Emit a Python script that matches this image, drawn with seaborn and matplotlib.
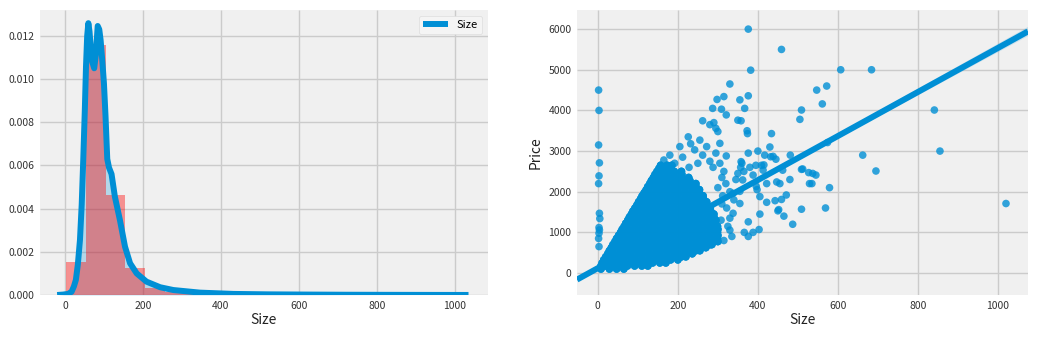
import numpy as np
import pandas as pd
import matplotlib
matplotlib.use("Agg")
import matplotlib.pyplot as plt
from matplotlib.ticker import FormatStrFormatter
import seaborn as sns

# ---------------- data ----------------
# left panel: histogram (20 bins) of Size, as densities
hist_edges = [2, 53, 104, 155, 206, 257, 308, 359, 410, 461, 512, 563, 614,
              665, 716, 767, 818, 869, 920, 971, 1022]
hist_density = [0.00154, 0.01158, 0.00463, 0.00126, 0.00032, 0.00012, 0.00006,
                0.00003, 0.00002, 0.000012, 0.000008, 0.000005, 0.000004,
                0.000003, 0.000002, 0.000001, 0.000001, 0.000002, 0.0, 0.000001]

# left panel: kernel density curve of Size
kde_size = [-20, -5, 8, 17, 23, 28, 33, 38.5, 43, 47, 51, 54, 57, 60, 63, 66,
            70, 75, 79, 84, 88, 91.5, 96, 100, 104, 108.5, 113, 119.5, 128,
            141, 154, 167, 184, 209, 244, 278, 346, 432, 520, 620, 720, 820,
            920, 1035]
kde_density = [0.0, 0.00002, 0.00005, 0.00015, 0.0004, 0.0007, 0.0014, 0.00255,
               0.0042, 0.0063, 0.0086, 0.0106, 0.0120, 0.01259, 0.0122, 0.0115,
               0.0108, 0.0105, 0.0111, 0.01246, 0.0123, 0.0118, 0.0108, 0.0098,
               0.0083, 0.0063, 0.0059, 0.0056, 0.00456, 0.00347, 0.00224,
               0.00147, 0.00100, 0.00062, 0.00036, 0.00023, 0.00011, 0.00005,
               0.00003, 0.00002, 0.000012, 0.000008, 0.000005, 0.000002]

# right panel: the dense body of listings, one row per price level
wedge_price = [100, 175, 250, 325, 400, 475, 550, 625, 700, 775, 850, 925,
               1000, 1075, 1150, 1225, 1300, 1375, 1450, 1525, 1600, 1675,
               1750, 1825, 1900, 1975, 2050, 2125, 2200, 2275, 2350, 2425,
               2500, 2575, 2650]
wedge_sizes = [
    [8, 29, 47, 65],
    [8, 20, 38, 56, 74, 92, 110, 125],
    [11, 29, 47, 65, 83, 101, 119, 137, 155, 170],
    [15, 20, 38, 56, 74, 92, 110, 128, 146, 164, 182, 200],
    [20, 29, 47, 65, 83, 101, 119, 137, 155, 173, 191, 209, 220],
    [25, 38, 56, 74, 92, 110, 128, 146, 164, 182, 200, 218, 236],
    [29, 47, 65, 83, 101, 119, 137, 155, 173, 191, 209, 227, 245, 255],
    [34, 38, 56, 74, 92, 110, 128, 146, 164, 182, 200, 218, 236, 254, 270],
    [38, 47, 65, 83, 101, 119, 137, 155, 173, 191, 209, 227, 245, 263, 281, 285],
    [43, 56, 74, 92, 110, 128, 146, 164, 182, 200, 218, 236, 254, 272, 290, 300],
    [47, 65, 83, 101, 119, 137, 155, 173, 191, 209, 227, 245, 263, 281, 299],
    [52, 56, 74, 92, 110, 128, 146, 164, 182, 200, 218, 236, 254, 272, 290, 300],
    [57, 65, 83, 101, 119, 137, 155, 173, 191, 209, 227, 245, 263, 281, 299],
    [61, 74, 92, 110, 128, 146, 164, 182, 200, 218, 236, 254, 272, 290, 300],
    [66, 83, 101, 119, 137, 155, 173, 191, 209, 227, 245, 263, 281, 299],
    [70, 74, 92, 110, 128, 146, 164, 182, 200, 218, 236, 254, 272, 290],
    [75, 83, 101, 119, 137, 155, 173, 191, 209, 227, 245, 263, 281, 295],
    [79, 92, 110, 128, 146, 164, 182, 200, 218, 236, 254, 272, 290],
    [84, 101, 119, 137, 155, 173, 191, 209, 227, 245, 263, 281, 290],
    [88, 92, 110, 128, 146, 164, 182, 200, 218, 236, 254, 272, 282],
    [93, 101, 119, 137, 155, 173, 191, 209, 227, 245, 263, 281],
    [98, 110, 128, 146, 164, 182, 200, 218, 236, 254, 272],
    [102, 119, 137, 155, 173, 191, 209, 227, 245, 263, 272],
    [107, 110, 128, 146, 164, 182, 200, 218, 236, 254, 264],
    [111, 119, 137, 155, 173, 191, 209, 227, 245, 263],
    [116, 128, 146, 164, 182, 200, 218, 236, 254],
    [121, 137, 155, 173, 191, 209, 227, 245, 254],
    [125, 128, 146, 164, 182, 200, 218, 236, 245],
    [130, 137, 155, 173, 191, 209, 227, 245],
    [134, 146, 164, 182, 200, 218, 230],
    [139, 155, 173, 191, 209, 227],
    [143, 146, 164, 182, 200, 210],
    [148, 155, 173, 191, 209],
    [153, 164, 182],
    [157, 173, 185],
]
wedge_count = 3  # listings sharing each spot of the dense body

# right panel: individual, visibly separate listings
sparse_size = [2, 3, 2, 4, 3, 2, 4, 5, 3, 4, 3, 2, 3,
               165, 180, 192, 205, 212, 226, 232, 242, 250, 255, 262, 272, 280,
               288, 295, 305, 305, 321, 315, 228,
               310, 320, 330, 340, 345, 312, 322, 330, 325, 335, 315, 308, 338,
               330, 355, 338, 350, 358, 300, 310,
               376, 382, 330, 376, 298, 315, 355, 287, 309, 321, 262, 350, 358,
               280, 290, 295, 300, 374, 434, 430, 400, 376, 367, 373,
               422, 447, 443, 450, 422, 405, 403, 388, 376, 366, 376, 405, 398,
               415, 432, 360, 380, 417, 438, 445, 395, 365, 357, 362, 396, 355,
               409, 413, 388,
               459, 607, 684, 547, 572, 561, 509, 505, 574, 481, 662, 841, 855,
               695, 462, 509, 512, 527, 537, 545, 480, 455, 529, 535, 579, 471,
               459, 452, 465, 509, 569, 487, 1020]
sparse_price = [4500, 4000, 3150, 2710, 2390, 2200, 1470, 1340, 1120, 1060, 980, 850, 650,
                2780, 2900, 2700, 3110, 2850, 3350, 3180, 3030, 2700, 3270, 2900, 3110, 2750,
                2600, 2950, 3190, 2700, 2880, 2500, 2600,
                2350, 2200, 2000, 1800, 2300, 1900, 1600, 1350, 1150, 900, 800, 1300, 1470,
                1055, 1710, 1960, 2450, 2740, 2100, 1700,
                6000, 4990, 4650, 4360, 4270, 4340, 4260, 4050, 4030, 3890, 3745, 3760, 3745,
                3650, 3700, 3560, 3480, 3430, 3430, 3100, 3000, 2950, 4050, 3500,
                2200, 2240, 1780, 1530, 1740, 1450, 1070, 1000, 900, 1000, 1260, 1880, 2050,
                2660, 2860, 2700, 2600, 2900, 2870, 2800, 2650, 2500, 2600, 2290, 2130, 2010,
                2650, 2530, 2410,
                5500, 5000, 5000, 4500, 4600, 4160, 4010, 3780, 3210, 2900, 2900, 4010, 3000,
                2510, 2530, 2550, 2560, 2470, 2450, 2410, 2300, 2200, 2200, 2200, 2100, 1920,
                1810, 1560, 1400, 1570, 1600, 1200, 1710]

# right panel: the crowded core of the cloud (many listings share these spots)
core_size = [50, 65, 80, 95, 110, 130, 160, 200]
core_price = [381, 462, 544, 625, 706, 815, 977, 1194]
core_count = [4000, 4000, 4000, 4000, 4000, 4000, 4000, 4000]

# ---------------- style ----------------
plt.style.use("fivethirtyeight")
plt.rcParams.update({
    "figure.facecolor": "white",
    "savefig.facecolor": "white",
    "axes.facecolor": "#f0f0f0",
    "axes.edgecolor": "#f0f0f0",
    "grid.color": "#cbcbcb",
    "grid.linewidth": 1.0,
    "axes.labelsize": 10,
    "xtick.labelsize": 7.5,
    "ytick.labelsize": 7.5,
    "legend.fontsize": 8,
    "xtick.color": "#333333",
    "ytick.color": "#333333",
    "axes.labelcolor": "#222222",
    "axes.unicode_minus": False,
})
plt.rcParams["font.family"] = ["Noto Sans CJK SC", "DejaVu Sans"]

blue = "#008fd5"

fig = plt.figure(figsize=(10.4, 3.4), dpi=100)
ax1 = fig.add_axes([40 / 1040, 45 / 340, 448 / 1040, 285 / 340])
ax2 = fig.add_axes([577 / 1040, 45 / 340, 451 / 1040, 285 / 340])

# ---------------- left: distribution of Size ----------------
ax1.set_axisbelow(True)
ax1.fill_between(kde_size, kde_density, color=blue, alpha=0.25, linewidth=0)
centers = [(a + b) / 2 for a, b in zip(hist_edges[:-1], hist_edges[1:])]
sns.histplot(x=centers, weights=hist_density, bins=hist_edges, stat="count",
             color="red", alpha=0.4, linewidth=0, ax=ax1)
sns.lineplot(x=kde_size, y=kde_density, ax=ax1, color=blue, linewidth=4.3,
             label="Size", sort=False, estimator=None)
ax1.set_xlim(-64, 1085)
ax1.set_ylim(0, 0.0132)
ax1.set_xticks([0, 200, 400, 600, 800, 1000])
ax1.set_yticks([0, 0.002, 0.004, 0.006, 0.008, 0.010, 0.012])
ax1.yaxis.set_major_formatter(FormatStrFormatter("%.3f"))
ax1.set_xlabel("Size", labelpad=2)
ax1.set_ylabel("")
leg = ax1.legend(loc="upper right", frameon=True, fancybox=True,
                 facecolor="#f4f4f4", edgecolor="#dddddd", framealpha=1,
                 handlelength=2.2)

# ---------------- right: Size vs Price ----------------
w_size, w_price = [], []
for p, row in zip(wedge_price, wedge_sizes):
    w_size.extend(row)
    w_price.extend([p] * len(row))
df = pd.DataFrame({
    "Size": list(np.repeat(core_size, core_count)) + w_size * wedge_count + sparse_size,
    "Price": list(np.repeat(core_price, core_count)) + w_price * wedge_count + sparse_price,
})

ax2.set_axisbelow(True)
ax2.set_xlim(-52, 1075)
sns.regplot(data=df, x="Size", y="Price", ax=ax2, truncate=False, color=blue,
            scatter_kws={"s": 30, "edgecolors": "none", "linewidths": 0},
            line_kws={"linewidth": 4.3}, seed=1)
ax2.set_xlim(-52, 1075)
ax2.set_ylim(-540, 6470)
ax2.set_xticks([0, 200, 400, 600, 800, 1000])
ax2.set_yticks([0, 1000, 2000, 3000, 4000, 5000, 6000])
ax2.set_xlabel("Size", labelpad=2)

for ax in (ax1, ax2):
    for s in ax.spines.values():
        s.set_visible(False)
    ax.tick_params(length=0, pad=4)

fig.savefig("out.png", dpi=100)
